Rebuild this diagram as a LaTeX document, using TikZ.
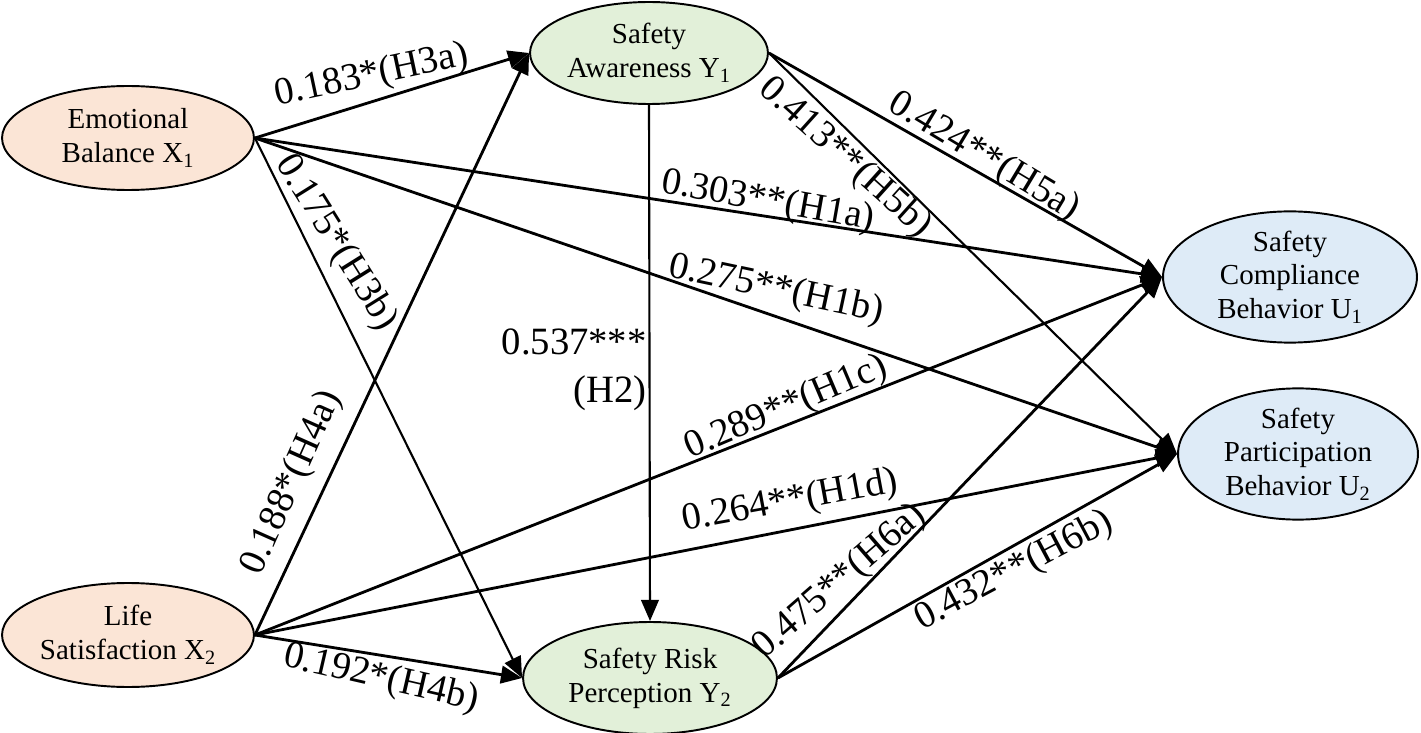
\documentclass[tikz,border=0pt]{standalone}
\usepackage{fontspec}
\setmainfont{Liberation Serif}
\usetikzlibrary{shapes.geometric,arrows.meta}
\definecolor{xfill}{HTML}{FBE5D6}
\definecolor{yfill}{HTML}{E2F0D9}
\definecolor{ufill}{HTML}{DEEBF7}
\tikzset{
  lat/.style={ellipse, draw, line width=1.1pt, inner sep=0pt, align=center,
    font=\fontsize{16.5}{19.3}\selectfont},
  arr/.style={-{Triangle[length=12pt,width=10pt]}, line width=1.6pt},
  arrthin/.style={arr, line width=1.2pt},
  lbl/.style={font=\fontsize{22}{27.5}\selectfont, inner sep=0pt},
}
\begin{document}
\begin{tikzpicture}[x=0.02cm,y=-0.02cm]
\useasboundingbox (0,0) rectangle (1421,733);
% latent variables
\node[lat, fill=xfill, minimum width=5.04cm, minimum height=2.08cm] (X1) at (128,138) {Emotional\\Balance X\textsubscript{1}};
\node[lat, fill=xfill, minimum width=5.04cm, minimum height=2.08cm] (X2) at (128,635) {Life\\Satisfaction X\textsubscript{2}};
\node[lat, fill=yfill, minimum width=4.76cm, minimum height=2.04cm] (Y1) at (649,53) {Safety\\Awareness Y\textsubscript{1}};
\node[lat, fill=yfill, minimum width=5.08cm, minimum height=2.24cm] (Y2) at (650,678) {Safety Risk\\Perception Y\textsubscript{2}};
\node[lat, fill=ufill, minimum width=5.08cm, minimum height=2.44cm] (U1) at (1290,277) {Safety\\Compliance\\Behavior U\textsubscript{1}};
\node[lat, fill=ufill, minimum width=4.80cm, minimum height=2.48cm] (U2) at (1298,454) {Safety\\Participation\\Behavior U\textsubscript{2}};
% paths
\draw[arr] (X1.east) -- (Y1.west);
\draw[arr] (X1.east) -- (U1.west);
\draw[arr] (X1.east) -- (U2.west);
\draw[arrthin] (X1.east) -- (Y2.west);
\draw[arr] (X2.east) -- (Y1.west);
\draw[arr] (X2.east) -- (U1.west);
\draw[arr] (X2.east) -- (U2.west);
\draw[arr] (X2.east) -- (Y2.west);
\draw[arrthin] (Y1.south) -- (Y2.north);
\draw[arr] (Y1.east) -- (U1.west);
\draw[arrthin] (Y1.east) -- (U2.west);
\draw[arr] (Y2.east) -- (U1.west);
\draw[arr] (Y2.east) -- (U2.west);
% labels
\node[lbl, rotate=12] (lH3a) at (372,76) {0.183*(H3a)};
\node[lbl, rotate=-10] (lH1a) at (768,202) {0.303**(H1a)};
\node[lbl, rotate=-12] (lH1b) at (776,290) {0.275**(H1b)};
\node[lbl, rotate=-58] (lH3b) at (336,243) {0.175*(H3b)};
\node[lbl, rotate=66] (lH4a) at (292,483) {0.188*(H4a)};
\node[lbl, rotate=23] (lH1c) at (786,408) {0.289**(H1c)};
\node[lbl, rotate=10.5] (lH1d) at (790,502) {0.264**(H1d)};
\node[lbl, rotate=-13] (lH4b) at (381,679) {0.192*(H4b)};
\node[lbl, rotate=-42] (lH5b) at (845,158) {0.413**(H5b)};
\node[lbl, rotate=-31] (lH5a) at (984,157) {0.424**(H5a)};
\node[lbl, rotate=41] (lH6a) at (840,582) {0.475**(H6a)};
\node[lbl, rotate=28] (lH6b) at (1014,571) {0.432**(H6b)};
\node[lbl, align=right, anchor=east] (lH2) at (647,370) {0.537***\\(H2)};
\end{tikzpicture}
\end{document}
